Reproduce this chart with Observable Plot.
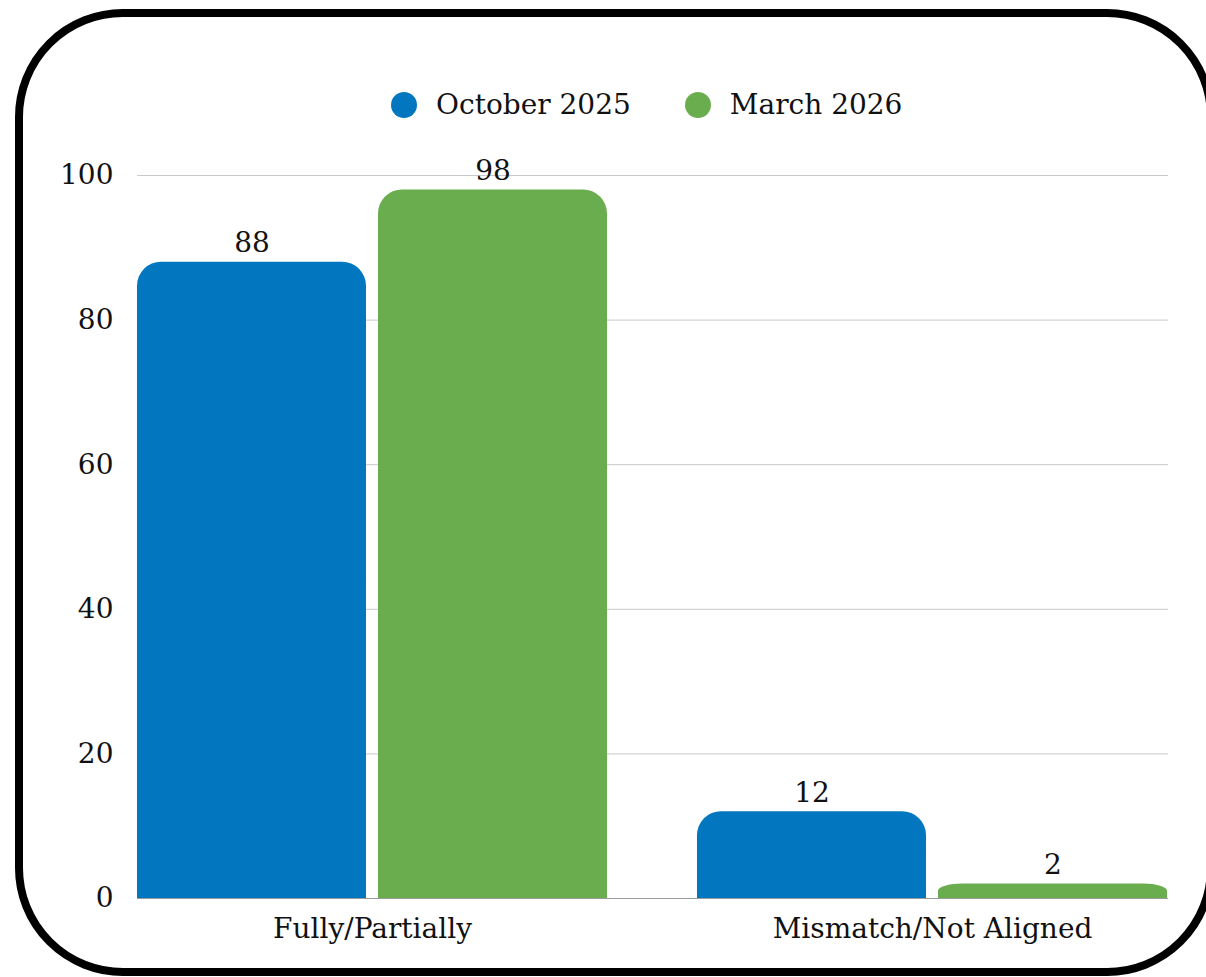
<!DOCTYPE html>
<html><head><meta charset="utf-8">
<script src="https://cdn.jsdelivr.net/npm/d3@7"></script>
<script src="https://cdn.jsdelivr.net/npm/@observablehq/plot@0.6"></script>
<style>
html,body{margin:0;padding:0;background:#fff;width:1206px;height:977px;overflow:hidden;font-family:"DejaVu Serif",serif;}
#frame{position:absolute;left:15px;top:9px;width:1200px;height:967px;box-sizing:border-box;border:8px solid #000;border-radius:108px;pointer-events:none;}
.layer{position:absolute;left:0;top:0;}
#legend{position:absolute;left:391px;top:88px;display:flex;align-items:center;font-size:28px;color:#111;white-space:nowrap;}
.item{display:flex;align-items:center;margin-right:54px;}
.sw{width:26px;height:26px;border-radius:50%;margin-right:19px;}
</style></head><body>
<div id="back" class="layer"></div>
<div id="chart" class="layer"></div>
<div id="legend"></div>
<div id="frame"></div>
<script>
const categories = ["Fully/Partially", "Mismatch/Not Aligned"];
const periods = ["October 2025", "March 2026"];
const october2025 = [88, 12];
const march2026 = [98, 2];
const yTicks = [0, 20, 40, 60, 80, 100];
const colors = ["#0277C0", "#6AAD4F"];

const data = categories.flatMap((c, i) => [
  {category: c, period: periods[0], value: october2025[i]},
  {category: c, period: periods[1], value: march2026[i]}
]);

const common = {
  width: 1206,
  height: 977,
  marginLeft: 137,
  marginRight: 38,
  marginTop: 175,
  marginBottom: 79,
  style: {fontFamily: "DejaVu Serif, serif", fontSize: "28px", color: "#111", background: "transparent"},
  y: {domain: [0, 100], axis: null}
};

// background: gridlines, y axis, baseline (spanning the full plot width)
const back = Plot.plot({
  ...common,
  x: {axis: null},
  marks: [
    Plot.ruleY(yTicks.filter(t => t > 0), {stroke: "#c8c8c8", strokeWidth: 1}),
    Plot.ruleY([0], {stroke: "#9a9a9a", strokeWidth: 1}),
    Plot.axisY({ticks: yTicks, tickSize: 0, tickPadding: 24, fontSize: 28, label: null, fill: "#111"})
  ]
});
document.getElementById("back").appendChild(back);

// foreground: grouped bars, value labels, category axis
const chart = Plot.plot({
  ...common,
  fx: {domain: categories, paddingInner: 0.16, paddingOuter: 0, label: null, axis: null},
  x: {domain: periods, axis: null, paddingInner: 0.05, paddingOuter: 0},
  color: {domain: periods, range: colors},
  marks: [
    Plot.barY(data, {fx: "category", x: "period", y: "value", fill: "period", rx: 24}),
    Plot.barY(data, {fx: "category", x: "period", y: d => d.value / 2, fill: "period"}),
    Plot.text(data, {fx: "category", x: "period", y: "value", text: d => String(d.value), dy: -19, fontSize: 28, fill: "#111"}),
    Plot.axisFx({anchor: "bottom", tickSize: 0, tickPadding: 20, fontSize: 28, label: null, fill: "#111"})
  ]
});
document.getElementById("chart").appendChild(chart);

const legend = document.getElementById("legend");
periods.forEach((p, i) => {
  const item = document.createElement("div");
  item.className = "item";
  const sw = document.createElement("span");
  sw.className = "sw";
  sw.style.background = colors[i];
  const lab = document.createElement("span");
  lab.textContent = p;
  item.appendChild(sw);
  item.appendChild(lab);
  legend.appendChild(item);
});
</script>
</body></html>
